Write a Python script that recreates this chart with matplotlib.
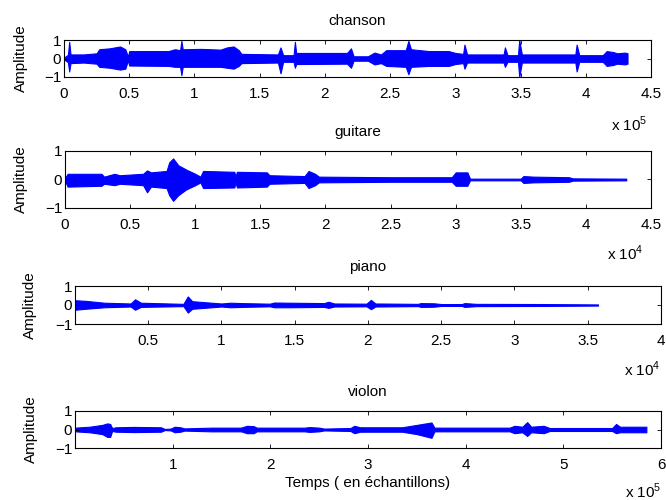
import numpy as np
import matplotlib
matplotlib.use("Agg")
import matplotlib.pyplot as plt
from matplotlib.ticker import FuncFormatter

plt.rcParams['font.family'] = ['Liberation Sans', 'DejaVu Sans']
plt.rcParams['mathtext.fontset'] = 'custom'
plt.rcParams['mathtext.rm'] = 'Liberation Sans'
plt.rcParams['font.size'] = 11

# envelopes: x in display units (x 10^n), upper / lower magnitude
chanson_x = [0.00, 0.03, 0.04, 0.05, 0.15, 0.25, 0.27, 0.35, 0.43, 0.47, 0.49, 0.50,
             0.80, 0.85, 0.89, 0.90, 0.91, 1.05, 1.20, 1.25, 1.30, 1.34, 1.36, 1.64,
             1.66, 1.68, 1.76, 1.77, 1.78, 2.17, 2.20, 2.22, 2.33, 2.38, 2.43, 2.47,
             2.62, 2.64, 2.66, 2.80, 2.95, 3.00, 3.06, 3.07, 3.09, 3.37, 3.38, 3.40,
             3.48, 3.49, 3.51, 3.92, 3.93, 3.95, 4.13, 4.16, 4.21, 4.24, 4.30, 4.32]
chanson_up = [0.05, 0.2, 0.9, 0.22, 0.22, 0.28, 0.5, 0.55, 0.65, 0.5, 0.1, 0.4,
              0.4, 0.5, 0.45, 0.95, 0.5, 0.52, 0.48, 0.6, 0.65, 0.45, 0.25, 0.22,
              0.6, 0.18, 0.18, 0.9, 0.3, 0.3, 0.55, 0.12, 0.12, 0.32, 0.22, 0.45,
              0.45, 0.95, 0.5, 0.4, 0.4, 0.3, 0.25, 0.75, 0.22, 0.22, 0.6, 0.18,
              0.18, 1.0, 0.22, 0.22, 0.75, 0.18, 0.18, 0.4, 0.35, 0.28, 0.32, 0.28]
chanson_dn = [0.05, 0.2, 0.7, 0.25, 0.22, 0.28, 0.45, 0.5, 0.6, 0.55, 0.1, 0.38,
              0.4, 0.45, 0.45, 0.9, 0.45, 0.45, 0.45, 0.5, 0.55, 0.4, 0.25, 0.22,
              0.8, 0.18, 0.18, 0.5, 0.3, 0.28, 0.5, 0.12, 0.12, 0.32, 0.25, 0.4,
              0.45, 0.85, 0.45, 0.4, 0.4, 0.3, 0.25, 0.55, 0.22, 0.22, 0.45, 0.18,
              0.18, 1.0, 0.22, 0.22, 0.7, 0.18, 0.18, 0.4, 0.35, 0.28, 0.32, 0.28]

guitare_x = [0.00, 0.02, 0.28, 0.30, 0.38, 0.42, 0.60, 0.63, 0.66, 0.78, 0.80, 0.83,
             0.87, 0.93, 1.00, 1.04, 1.06, 1.30, 1.31, 1.32, 1.55, 1.57, 1.84, 1.87,
             1.92, 1.95, 2.50, 2.97, 3.00, 3.09, 3.11, 3.50, 3.52, 3.60, 3.87, 3.90, 4.31]
guitare_up = [0.05, 0.2, 0.2, 0.1, 0.2, 0.15, 0.2, 0.32, 0.25, 0.3, 0.6, 0.74,
              0.5, 0.35, 0.2, 0.1, 0.3, 0.27, 0.1, 0.27, 0.25, 0.15, 0.12, 0.3,
              0.2, 0.1, 0.08, 0.08, 0.25, 0.25, 0.03, 0.03, 0.12, 0.1, 0.08, 0.04, 0.03]
guitare_dn = [0.05, 0.25, 0.22, 0.15, 0.2, 0.15, 0.2, 0.45, 0.25, 0.3, 0.55, 0.75,
              0.55, 0.35, 0.2, 0.1, 0.3, 0.28, 0.1, 0.28, 0.25, 0.15, 0.12, 0.3,
              0.2, 0.1, 0.08, 0.08, 0.22, 0.22, 0.03, 0.03, 0.12, 0.1, 0.08, 0.04, 0.03]

piano_x = [0.00, 0.07, 0.20, 0.38, 0.41, 0.45, 0.74, 0.77, 0.80, 1.00, 1.06, 1.14,
           1.33, 1.36, 1.46, 1.70, 1.73, 1.77, 1.99, 2.02, 2.05, 2.34, 2.36, 2.45,
           2.50, 2.64, 2.66, 2.74, 3.20, 3.57]
piano_up = [0.25, 0.22, 0.12, 0.08, 0.3, 0.12, 0.06, 0.45, 0.2, 0.08, 0.12, 0.1,
            0.07, 0.13, 0.12, 0.1, 0.17, 0.08, 0.07, 0.27, 0.08, 0.06, 0.1, 0.09,
            0.05, 0.05, 0.1, 0.06, 0.05, 0.03]
piano_dn = [0.25, 0.2, 0.12, 0.08, 0.25, 0.1, 0.06, 0.4, 0.2, 0.08, 0.12, 0.1,
            0.07, 0.12, 0.12, 0.1, 0.15, 0.08, 0.07, 0.22, 0.08, 0.06, 0.1, 0.09,
            0.05, 0.05, 0.1, 0.06, 0.05, 0.03]

violon_x = [0.00, 0.15, 0.28, 0.33, 0.36, 0.38, 0.42, 0.60, 0.88, 0.92, 0.98, 1.02,
            1.08, 1.12, 1.40, 1.70, 1.76, 1.83, 1.86, 2.35, 2.40, 2.50, 2.55, 2.82,
            2.86, 2.92, 3.35, 3.50, 3.65, 3.68, 4.45, 4.50, 4.58, 4.63, 4.67, 4.80,
            4.86, 5.50, 5.54, 5.58, 5.85]
violon_up = [0.1, 0.15, 0.25, 0.33, 0.3, 0.08, 0.12, 0.14, 0.12, 0.03, 0.05, 0.15,
             0.12, 0.06, 0.1, 0.1, 0.2, 0.18, 0.1, 0.1, 0.13, 0.1, 0.05, 0.08,
             0.2, 0.12, 0.12, 0.25, 0.38, 0.1, 0.1, 0.2, 0.15, 0.4, 0.15, 0.2,
             0.08, 0.08, 0.3, 0.15, 0.15]
violon_dn = [0.1, 0.15, 0.25, 0.4, 0.4, 0.08, 0.12, 0.14, 0.12, 0.03, 0.05, 0.15,
             0.12, 0.06, 0.1, 0.1, 0.2, 0.2, 0.1, 0.1, 0.13, 0.1, 0.05, 0.08,
             0.2, 0.12, 0.12, 0.25, 0.45, 0.1, 0.1, 0.2, 0.15, 0.35, 0.15, 0.2,
             0.08, 0.08, 0.2, 0.15, 0.15]

titles = ['chanson', 'guitare', 'piano', 'violon']
scales = [1e5, 1e4, 1e4, 1e5]
exps = ['5', '4', '4', '5']
xlims = [(0, 4.5e5), (0, 4.5e4), (1, 4e4), (1, 6e5)]
xticks = [np.arange(0, 4.51, 0.5), np.arange(0, 4.51, 0.5), np.arange(0.5, 4.01, 0.5), np.arange(1, 6.01, 1)]
envs = [(chanson_x, chanson_up, chanson_dn), (guitare_x, guitare_up, guitare_dn),
        (piano_x, piano_up, piano_dn), (violon_x, violon_up, violon_dn)]

# axes boxes in pixels (left, top, right, bottom) on a 666x500 canvas
boxes = [(64, 40, 651, 77), (65, 151, 651, 208), (75, 286, 661, 324), (75, 411, 661, 448)]
ylab_px = [28, 28, 37, 38]
exp_dx = [-4, -7, 0, 0]
exp_dy = [-34, -33, -33, -31]

fig = plt.figure(figsize=(6.66, 5), dpi=100)
W, H = 666.0, 500.0
for i in range(4):
    l, t, r, b = boxes[i]
    ax = fig.add_axes([l / W, 1 - b / H, (r - l) / W, (b - t) / H])
    x, up, dn = envs[i]
    xs = np.array(x) * scales[i]
    ax.fill_between(xs, np.array(up), -np.array(dn), color='#0000ff', linewidth=0.8, edgecolor='#0000ff')
    ax.set_xlim(*xlims[i])
    ax.set_ylim(-1, 1)
    ax.set_yticks([-1, 0, 1])
    ax.set_xticks(xticks[i] * scales[i])
    s = scales[i]
    ax.xaxis.set_major_formatter(FuncFormatter(lambda v, p, s=s: '%g' % round(v / s, 3)))
    ax.yaxis.set_major_formatter(FuncFormatter(lambda v, p: ('\u2212%g' % -v) if v < 0 else '%g' % v))
    ax.tick_params(direction='in', length=3, width=0.6, top=True, right=True, labelsize=11)
    ax.tick_params(axis='x', pad=7)
    ax.tick_params(axis='y', pad=2)
    for sp in ax.spines.values():
        sp.set_linewidth(0.8)
    ax.set_title(titles[i], fontsize=11, pad=11)
    ax.set_ylabel('Amplitude', fontsize=11)
    ax.yaxis.set_label_coords((ylab_px[i] - l) / (r - l), 0.5)
    ax.annotate('x 10$^{' + exps[i] + '}$', xy=(1, 0), xycoords='axes fraction',
                xytext=(exp_dx[i] * 0.72, exp_dy[i]), textcoords='offset points',
                ha='right', va='center', fontsize=11)
    if i == 3:
        ax.set_xlabel('Temps ( en échantillons)', fontsize=11, labelpad=3)

fig.savefig('out.png', dpi=100)
